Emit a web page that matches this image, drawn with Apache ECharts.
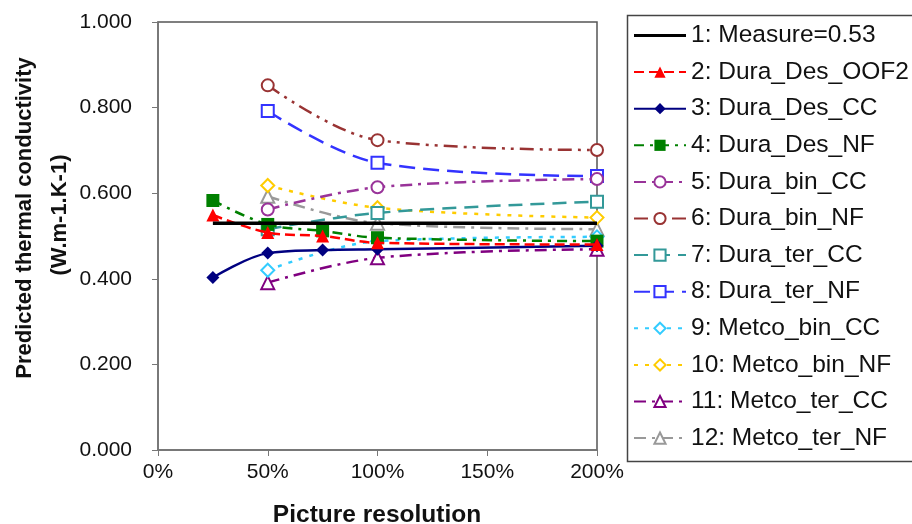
<!DOCTYPE html>
<html>
<head>
<meta charset="utf-8">
<script src="https://cdn.jsdelivr.net/npm/echarts@6/dist/echarts.min.js"></script>
<style>
html,body{margin:0;padding:0;background:#fff;}
#chart{width:912px;height:524px;}
</style>
</head>
<body>
<div id="chart"></div>
<script>
// Picture resolution (%) at which each series was evaluated
const xFull = [25, 50, 75, 100, 200];
const xPart = [50, 100, 200];

const seriesNames = [
  '1: Measure=0.53',
  '2: Dura_Des_OOF2',
  '3: Dura_Des_CC',
  '4: Dura_Des_NF',
  '5: Dura_bin_CC',
  '6: Dura_bin_NF',
  '7: Dura_ter_CC',
  '8: Dura_ter_NF',
  '9: Metco_bin_CC',
  '10: Metco_bin_NF',
  '11: Metco_ter_CC',
  '12: Metco_ter_NF'
];

// Predicted thermal conductivity (W.m-1.K-1)
const measure      = [0.53, 0.53, 0.53, 0.53, 0.53];
const duraDesOOF2  = [0.549, 0.508, 0.500, 0.484, 0.480];
const duraDesCC    = [0.403, 0.460, 0.467, 0.469, 0.477];
const duraDesNF    = [0.583, 0.527, 0.512, 0.496, 0.488];
const duraBinCC    = [0.562, 0.614, 0.633];
const duraBinNF    = [0.852, 0.724, 0.701];
const duraTerCC    = [0.516, 0.554, 0.580];
const duraTerNF    = [0.792, 0.671, 0.640];
const metcoBinCC   = [0.420, 0.488, 0.498];
const metcoBinNF   = [0.618, 0.566, 0.543];
const metcoTerCC   = [0.391, 0.449, 0.469];
const metcoTerNF   = [0.593, 0.530, 0.516];

const yTicks = [0, 0.2, 0.4, 0.6, 0.8, 1.0];
const xTicks = [0, 50, 100, 150, 200];

const valuesList = [measure, duraDesOOF2, duraDesCC, duraDesNF, duraBinCC, duraBinNF,
  duraTerCC, duraTerNF, metcoBinCC, metcoBinNF, metcoTerCC, metcoTerNF];
const xList = [xFull, xFull, xFull, xFull, xPart, xPart, xPart, xPart, xPart, xPart, xPart, xPart];

const styles = [
  {color:'#000000', symbol:'none', dash:'solid', width:3.5, size:0},
  {color:'#FF0000', symbol:'triangle', dash:[10,5], width:2.5, size:13},
  {color:'#000080', symbol:'diamond', dash:'solid', width:2.5, size:13},
  {color:'#008000', symbol:'rect', dash:[10,6,3,6], width:2.5, size:13},
  {color:'#993399', symbol:'emptyCircle', dash:[12,6,3,6], width:2.5, size:12},
  {color:'#993333', symbol:'emptyCircle', dash:[14,6,3,6,3,6], width:2.5, size:12},
  {color:'#339999', symbol:'emptyRect', dash:[14,8], width:2.5, size:12},
  {color:'#3333FF', symbol:'emptyRect', dash:[16,8], width:2.5, size:12},
  {color:'#33CCFF', symbol:'emptyDiamond', dash:[4,7], width:2.5, size:13},
  {color:'#FFCC00', symbol:'emptyDiamond', dash:[4,7], width:2.5, size:13},
  {color:'#800080', symbol:'emptyTriangle', dash:[12,6,3,6], width:2.5, size:13},
  {color:'#999999', symbol:'emptyTriangle', dash:[12,6,3,6], width:2.5, size:13}
];

const series = seriesNames.map((name, i) => {
  const st = styles[i];
  return {
    name: name,
    type: 'line',
    smooth: 0.35,
    data: xList[i].map((x, k) => [x, valuesList[i][k]]),
    symbol: st.symbol,
    symbolSize: st.size,
    showSymbol: st.symbol !== 'none',
    z: 20 - i,
    itemStyle: {color: st.color, borderWidth: 1.5},
    lineStyle: {color: st.color, width: st.width, type: st.dash},
    emphasis: {disabled: true},
    animation: false
  };
});

const legendData = seriesNames.map((n, i) => i === 0
  ? {name: n, icon: 'path://M0,0 L52,0 L52,3 L0,3 Z', itemStyle: {color: '#000'}}
  : {name: n});

const chart = echarts.init(document.getElementById('chart'), null, {renderer: 'canvas'});
chart.setOption({
  animation: false,
  backgroundColor: '#ffffff',
  textStyle: {fontFamily: 'Liberation Sans, Arial, sans-serif'},
  grid: {left: 158, right: 315, top: 22, bottom: 74, show: true,
         borderColor: '#555555', borderWidth: 1.5, backgroundColor: 'transparent'},
  xAxis: {
    type: 'value', min: 0, max: 200, interval: 50,
    axisLine: {show: true, lineStyle: {color: '#777777', width: 1.5}},
    axisTick: {show: true, inside: false, length: 6, lineStyle: {color: '#777777'}},
    splitLine: {show: false},
    axisLabel: {fontSize: 21, color: '#111', margin: 12,
      formatter: v => xTicks.indexOf(v) >= 0 ? v + '%' : ''}
  },
  yAxis: {
    type: 'value', min: 0, max: 1, interval: 0.2,
    axisLine: {show: true, lineStyle: {color: '#777777', width: 1.5}},
    axisTick: {show: true, inside: false, length: 6, lineStyle: {color: '#777777'}},
    splitLine: {show: false},
    axisLabel: {fontSize: 21, color: '#111', margin: 26,
      formatter: v => yTicks.some(t => Math.abs(t - v) < 1e-9) ? v.toFixed(3) : ''}
  },
  legend: {
    orient: 'vertical', left: 628, top: 18,
    itemWidth: 52, itemHeight: 14, itemGap: 11.6,
    textStyle: {fontSize: 24.5, color: '#111', lineHeight: 24},
    data: legendData,
    selectedMode: false
  },
  graphic: [
    {type: 'rect', left: 625, top: 13, shape: {width: 300, height: 446},
     style: {fill: 'none', stroke: '#444', lineWidth: 1.5}, silent: true},
    {type: 'text', x: 25, y: 218, rotation: Math.PI / 2,
     style: {text: 'Predicted thermal conductivity', font: 'bold 22px "Liberation Sans", Arial, sans-serif',
             fill: '#111', align: 'center', verticalAlign: 'middle'}},
    {type: 'text', x: 60, y: 215, rotation: Math.PI / 2,
     style: {text: '(W.m-1.K-1)', font: 'bold 22px "Liberation Sans", Arial, sans-serif',
             fill: '#111', align: 'center', verticalAlign: 'middle'}},
    {type: 'text', x: 377, y: 515,
     style: {text: 'Picture resolution', font: 'bold 24.5px "Liberation Sans", Arial, sans-serif',
             fill: '#111', align: 'center', verticalAlign: 'middle'}}
  ],
  series: series
});
</script>
</body>
</html>
